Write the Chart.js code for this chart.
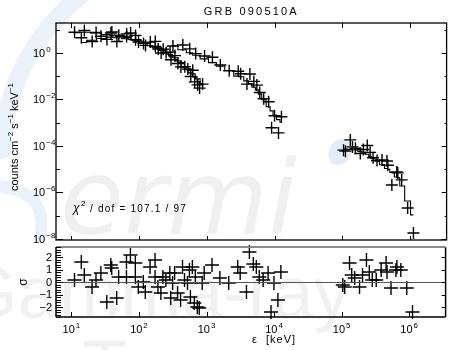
<!DOCTYPE html>
<html>
<head>
<meta charset="utf-8">
<script src="https://cdn.jsdelivr.net/npm/chart.js@4.4.1/dist/chart.umd.min.js"></script>
<style>
  html, body { margin: 0; padding: 0; background: #fff; }
  #wrap { position: relative; width: 454px; height: 350px; overflow: hidden; }
  #wrap canvas { position: absolute; left: 0; top: 0; }
</style>
</head>
<body>
<div id="wrap">
  <canvas id="spec" width="454" height="350"></canvas>
  <canvas id="resid" width="454" height="350"></canvas>
</div>
<script>
// ---- data (energies in keV, counts cm^-2 s^-1 keV^-1, residuals in sigma)
const naiA_E      = [11.1, 15.5, 23.1, 33.4, 39.5, 50.0, 65.3, 88.3, 97.7, 124, 173, 191, 226, 286, 337, 413, 522, 617, 730, 863];
const naiA_counts = [7.77, 9.19, 7.58, 3.81, 7.96, 5.77, 5.13, 5.66, 2.91, 2.10, 3.12, 1.46, 1.44, 1.08, 0.765, 0.250, 0.201, 0.179, 0.0421, 0.0455];
const naiA_model  = [7.39, 7.77, 7.21, 6.12, 5.69, 5.13, 4.55, 3.59, 3.28, 2.67, 1.85, 1.64, 1.28, 0.870, 0.616, 0.383, 0.205, 0.125, 0.0762, 0.0464];
const naiA_resid  = [0.16, 0.56, 0.16, -1.6, 1.12, 0.4, 0.4, 1.52, -0.4, -0.8, 1.76, -0.4, 0.4, 0.72, 0.72, -1.44, -0.08, 1.2, -2.0, -0.08];

const naiB_E      = [14.0, 20.2, 27.3, 38.2, 46.8, 65.3, 74.7, 88.3, 116, 146, 173, 211, 250, 295, 373, 472, 577, 660, 780];
const naiB_counts = [4.51, 3.09, 5.18, 7.18, 3.09, 6.56, 7.18, 3.66, 2.56, 2.91, 1.88, 0.99, 1.05, 0.505, 0.350, 0.255, 0.0966, 0.0566, 0.0306];
const naiB_model  = [2.80, 3.48, 4.16, 4.78, 4.51, 4.08, 3.77, 3.25, 2.56, 2.04, 1.67, 1.28, 1.00, 0.736, 0.453, 0.243, 0.138, 0.0929, 0.0566];
const naiB_resid  = [1.6, -0.4, 0.72, 1.36, -1.28, 1.6, 2.16, 0.4, 0.0, 1.2, 0.4, -0.88, 0.16, -1.28, -0.88, 0.16, -1.2, -1.68, -2.08];

const bgo_E      = [315, 441, 558, 683, 923, 1206, 1577, 2133, 2900, 3150, 3900, 4310, 4930, 5460, 6030, 6890, 8150, 9010, 9960, 11400, 12600];
const bgo_counts = [1.98, 2.19, 1.49, 0.933, 0.736, 0.653, 0.302, 0.170, 0.162, 0.126, 0.0455, 0.124, 0.0595, 0.0412, 0.0198, 0.0107, 0.00796, 0.000607, 0.00199, 0.000362, 0.0018];
const bgo_model  = [2.04, 1.36, 1.02, 0.796, 0.552, 0.383, 0.265, 0.175, 0.100, 0.0947, 0.0625, 0.0478, 0.0335, 0.0256, 0.0169, 0.00971, 0.00485, 0.0032, 0.00211, 0.00135, 0.00104];
const bgo_resid  = [-0.08, 1.2, 0.96, 0.4, 0.72, 1.36, 0.32, -0.08, 1.2, 0.72, -0.8, 2.4, 1.44, 1.2, 0.4, 0.16, 0.72, -2.4, -0.08, -1.44, 0.8];

const lat_E      = [1.04e5, 1.11e5, 1.31e5, 1.41e5, 1.56e5, 1.84e5, 2.04e5, 2.33e5, 2.57e5, 2.84e5, 3.25e5, 3.85e5, 4.55e5, 4.70e5, 5.38e5, 6.36e5, 6.58e5, 7.52e5, 9.20e5, 1.12e6];
const lat_counts = [6.59e-5, 5.97e-5, 1.81e-4, 9.06e-5, 7.88e-5, 4.75e-5, 7.0e-5, 1.04e-4, 5.25e-5, 3.10e-5, 2.36e-5, 2.48e-5, 2.26e-5, 1.47e-5, 2.10e-6, 7.62e-6, 6.90e-6, 3.45e-6, 2.15e-7, 1.81e-8];
const lat_model  = [7.43e-5, 7.28e-5, 7.0e-5, 6.87e-5, 6.73e-5, 5.80e-5, 5.31e-5, 4.35e-5, 3.53e-5, 2.87e-5, 2.18e-5, 1.54e-5, 1.07e-5, 9.86e-6, 7.18e-6, 4.64e-6, 4.21e-6, 1.90e-6, 4.31e-7, 1.08e-7];
const lat_resid  = [-0.24, -0.4, 1.52, 0.56, 0.32, -0.4, 0.56, 1.76, 0.8, 0.16, 0.16, 0.96, 1.52, 0.8, -0.48, 0.96, 1.2, 0.96, -0.48, -2.4];

// axes
const xTicks      = [1e1, 1e2, 1e3, 1e4, 1e5, 1e6];
const xTickExps   = ['1', '2', '3', '4', '5', '6'];
const yTickExps   = [1, 0, -1, -2, -3, -4, -5, -6, -7, -8];
const yLabelExps  = [0, -2, -4, -6, -8];
const residTicks  = [2, 1, 0, -1, -2];
const residLabels = ['2', '1', '0', '\u22121', '\u22122'];

const TITLE = 'GRB 090510A';
const STAT  = ' / dof = 107.1 / 97';

const FONT = 'Helvetica, "Liberation Sans", Arial, sans-serif';
const X_MIN = 5.91, X_MAX = 3.46e6;

const series = [
  { E: naiA_E, counts: naiA_counts, model: naiA_model, resid: naiA_resid },
  { E: naiB_E, counts: naiB_counts, model: naiB_model, resid: naiB_resid },
  { E: bgo_E,  counts: bgo_counts,  model: bgo_model,  resid: bgo_resid },
  { E: lat_E,  counts: lat_counts,  model: lat_model,  resid: lat_resid },
];

const pts = (xs, ys) => xs.map((x, i) => ({ x, y: ys[i] }));

function crosses(data, r) {
  return { type: 'scatter', data, pointStyle: 'cross', pointRadius: r, pointBorderWidth: 1.4,
           borderColor: '#000', backgroundColor: '#000', showLine: false, clip: 10 };
}
function steps(data) {
  return { type: 'line', data, stepped: 'middle', borderColor: '#000', borderWidth: 1.1,
           pointRadius: 0, fill: false, clip: 10 };
}

// "10" with a raised exponent
function pow10(ctx, x, y, exp, align) {
  ctx.font = '11px ' + FONT;
  const wb = ctx.measureText('10').width;
  ctx.font = '8px ' + FONT;
  const we = ctx.measureText(exp).width;
  const x0 = align === 'center' ? x - (wb + we + 1) / 2 : x;
  ctx.textAlign = 'left'; ctx.textBaseline = 'alphabetic';
  ctx.font = '11px ' + FONT; ctx.fillText('10', x0, y);
  ctx.font = '8px ' + FONT;  ctx.fillText(exp, x0 + wb + 1, y - 5);
}

// run of text pieces, some raised (sup = true), centred on cx
function richText(ctx, pieces, cx, y) {
  const w = pieces.map(([t, sup]) => { ctx.font = (sup ? '8px ' : '11px ') + FONT; return ctx.measureText(t).width; });
  let x = cx - w.reduce((a, b) => a + b, 0) / 2;
  ctx.textAlign = 'left'; ctx.textBaseline = 'alphabetic';
  pieces.forEach(([t, sup], i) => {
    ctx.font = (sup ? '8px ' : '11px ') + FONT;
    ctx.fillText(t, x, sup ? y - 5 : y);
    x += w[i];
  });
}

function hline(ctx, x1, x2, y) { ctx.beginPath(); ctx.moveTo(x1, y); ctx.lineTo(x2, y); ctx.stroke(); }
function vline(ctx, x, y1, y2) { ctx.beginPath(); ctx.moveTo(x, y1); ctx.lineTo(x, y2); ctx.stroke(); }

// faint logo behind the plot
const watermark = {
  id: 'watermark',
  beforeDraw(chart) {
    const c = chart.ctx;
    c.save();
    c.strokeStyle = 'rgba(200,218,238,0.35)'; c.lineWidth = 18; c.lineCap = 'round';
    c.beginPath(); c.moveTo(2, 150); c.quadraticCurveTo(8, 50, 90, -12); c.stroke();
    c.lineWidth = 12;
    c.beginPath(); c.moveTo(-4, 186); c.quadraticCurveTo(50, 190, 40, 238); c.stroke();
    c.fillStyle = 'rgba(205,220,240,0.55)';
    c.beginPath(); c.ellipse(340, 152, 11, 14, 0.5, 0, Math.PI * 2); c.fill();
    c.fillStyle = 'rgba(0,0,0,0.06)';
    c.font = 'italic 104px "DejaVu Sans"';
    c.fillText('ermi', 60, 234);
    c.fillStyle = 'rgba(0,0,0,0.055)';
    c.font = '74px "Liberation Sans Narrow", "Liberation Sans"';
    c.fillText('Gamma-ray', -40, 318);
    c.fillText('T', 82, 392);
    c.restore();
  }
};

const specFrame = {
  id: 'specFrame',
  afterDraw(chart) {
    const { ctx, chartArea: a, scales: { x, y } } = chart;
    ctx.save();
    ctx.strokeStyle = '#000'; ctx.fillStyle = '#000'; ctx.lineWidth = 1.3;
    ctx.strokeRect(a.left, a.top, a.right - a.left, a.bottom - a.top);
    ctx.lineWidth = 1;
    xTicks.forEach(v => {
      const px = Math.round(x.getPixelForValue(v)) + 0.5;
      vline(ctx, px, a.top, a.top + 5);
      vline(ctx, px, a.bottom, a.bottom - 4);
    });
    yTickExps.forEach(e => {
      const py = Math.round(y.getPixelForValue(Math.pow(10, e))) + 0.5;
      const major = e % 2 === 0;
      hline(ctx, a.left, a.left + (major ? 7 : 4), py);
      hline(ctx, a.right, a.right - (major ? 5 : 2), py);
    });
    yLabelExps.forEach(e => {
      const py = y.getPixelForValue(Math.pow(10, e));
      pow10(ctx, 33, py + 4, e === 0 ? '0' : '\u2212' + (-e), 'left');
    });
    // title
    ctx.font = '11px ' + FONT; ctx.letterSpacing = '2.2px';
    ctx.textAlign = 'center'; ctx.textBaseline = 'alphabetic';
    ctx.fillText(TITLE, (a.left + a.right) / 2, 15);
    ctx.letterSpacing = '0px';
    // y title
    ctx.save();
    ctx.translate(18, 137); ctx.rotate(-Math.PI / 2);
    richText(ctx, [['counts cm', 0], ['\u22122', 1], [' s', 0], ['\u22121', 1], [' keV', 0], ['\u22121', 1]], 0, 0);
    ctx.restore();
    // fit statistic
    ctx.font = 'italic 12px ' + FONT; ctx.textAlign = 'left';
    ctx.fillText('\u03c7', 73, 212);
    ctx.font = '8px ' + FONT; ctx.fillText('2', 81, 206);
    ctx.font = '10px ' + FONT; ctx.letterSpacing = '1.2px';
    ctx.fillText(STAT, 86, 212);
    ctx.letterSpacing = '0px';
    ctx.restore();
  }
};

const residFrame = {
  id: 'residFrame',
  afterDraw(chart) {
    const { ctx, chartArea: a, scales: { x, y } } = chart;
    ctx.save();
    // zero line
    ctx.strokeStyle = '#555'; ctx.lineWidth = 1;
    hline(ctx, a.left, a.right, Math.round(y.getPixelForValue(0)) + 0.5);
    // frame
    ctx.strokeStyle = '#000'; ctx.lineWidth = 1.5;
    vline(ctx, a.left, a.top, a.bottom);
    vline(ctx, a.right, a.top, a.bottom);
    hline(ctx, a.left, a.right, a.bottom);
    ctx.strokeStyle = '#888'; ctx.lineWidth = 2;
    hline(ctx, a.left, a.right, a.top);
    ctx.strokeStyle = '#000'; ctx.lineWidth = 1;
    xTicks.forEach(v => {
      const px = Math.round(x.getPixelForValue(v)) + 0.5;
      vline(ctx, px, a.bottom, a.bottom - 5);
    });
    // dense minor ticks on the left edge, integer ticks on the right
    for (let k = -14; k <= 14; k++) {
      const py = Math.round(y.getPixelForValue(k / 5)) + 0.5;
      hline(ctx, a.left, a.left + (k % 5 === 0 ? 7 : 5), py);
    }
    residTicks.forEach(v => {
      const py = Math.round(y.getPixelForValue(v)) + 0.5;
      hline(ctx, a.right, a.right - 4, py);
    });
    // labels
    ctx.fillStyle = '#000';
    ctx.font = '11px ' + FONT; ctx.textAlign = 'right'; ctx.textBaseline = 'middle';
    residTicks.forEach((v, i) => ctx.fillText(residLabels[i], 52, y.getPixelForValue(v) + 0.5));
    xTicks.forEach((v, i) => pow10(ctx, x.getPixelForValue(v), 333, xTickExps[i], 'center'));
    ctx.save();
    ctx.translate(24, 282); ctx.rotate(-Math.PI / 2);
    ctx.font = '12px ' + FONT; ctx.textAlign = 'center'; ctx.textBaseline = 'middle';
    ctx.fillText('\u03c3', 0, 0);
    ctx.restore();
    ctx.font = '11px ' + FONT; ctx.textAlign = 'left'; ctx.textBaseline = 'alphabetic';
    ctx.letterSpacing = '1px';
    ctx.fillText('\u03b5  [keV]', 252, 343);
    ctx.letterSpacing = '0px';
    ctx.restore();
  }
};

const common = {
  responsive: false, animation: false, events: [],
  plugins: { legend: { display: false }, tooltip: { enabled: false } },
};

new Chart(document.getElementById('spec'), {
  type: 'scatter',
  data: {
    datasets: series.flatMap(s => [steps(pts(s.E, s.model)), crosses(pts(s.E, s.counts), 6)])
  },
  options: {
    ...common,
    layout: { padding: { left: 56, right: 2, top: 23, bottom: 110 } },
    scales: {
      x: { type: 'logarithmic', min: X_MIN, max: X_MAX, display: false },
      y: { type: 'logarithmic', min: 9.3e-9, max: 19.3, display: false },
    },
  },
  plugins: [watermark, specFrame],
});

new Chart(document.getElementById('resid'), {
  type: 'scatter',
  data: {
    datasets: series.map(s => crosses(pts(s.E, s.resid), 7))
  },
  options: {
    ...common,
    layout: { padding: { left: 56, right: 2, top: 247, bottom: 33 } },
    scales: {
      x: { type: 'logarithmic', min: X_MIN, max: X_MAX, display: false },
      y: { type: 'linear', min: -2.8, max: 2.8, display: false },
    },
  },
  plugins: [residFrame],
});
</script>
</body>
</html>
